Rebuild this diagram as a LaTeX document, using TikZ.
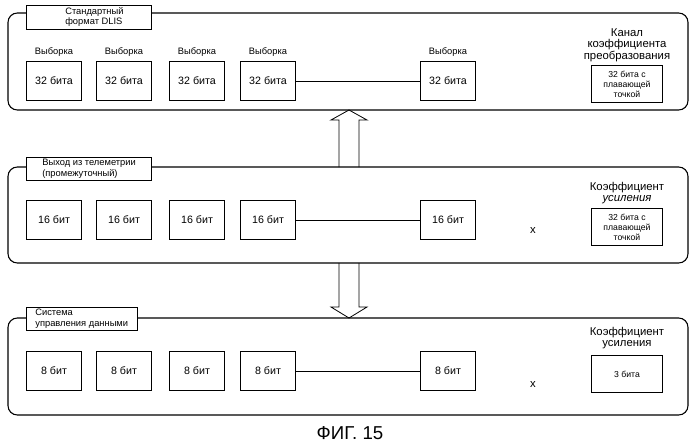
\documentclass[tikz,border=0pt]{standalone}
\usepackage{fontspec}
\setmainfont{Liberation Sans}
\begin{document}
\begin{tikzpicture}[x=0.75pt,y=-0.75pt,
panel/.style={draw,line width=0.8pt,rounded corners=7pt},
lab/.style={draw,fill=white,line width=0.6pt,font=\fontsize{7}{8}\selectfont,align=left,inner sep=1.5pt,anchor=north west},
box/.style={draw,line width=0.6pt,minimum width=41pt,minimum height=29pt,font=\fontsize{8}{9}\selectfont},
rbox/.style={draw,line width=0.6pt,minimum width=53pt,minimum height=28pt,font=\fontsize{6.5}{7.5}\selectfont,align=center,inner sep=1pt},
smp/.style={font=\fontsize{7}{8}\selectfont},
hd/.style={font=\fontsize{8.5}{8.5}\selectfont,align=center},
harr/.style={draw,line width=0.6pt,line join=miter}]
\useasboundingbox (0,0) rectangle (699,447);
% panels
\draw[panel] (8,13) rectangle (688,110);
\draw[panel] (8,167) rectangle (688,263);
\draw[panel] (8,318) rectangle (688,415);
% hollow arrows
\draw[harr] (339,167) -- (339,120) -- (331,120) -- (349,110) -- (367,120) -- (359,120) -- (359,167);
\draw[harr] (339,263) -- (339,307) -- (331,307) -- (349,318) -- (367,307) -- (359,307) -- (359,263);
\node[lab,minimum width=94pt] (l1) at (26,5) {\hspace{8pt}Стандартный\\\hspace{8pt}формат DLIS};
\node[lab,minimum width=94pt] (l2) at (26,157) {Выход из телеметрии\\(промежуточный)};
\node[lab,minimum width=83pt] (l3) at (26,307) {Система\\управления данными};
% row 1
\foreach \n/\x in {a/54,b/124,c/197,d/268,e/448}{
  \node[box] (t\n) at (\x,81) {32 бита};
  \node[smp] (s\n) at (\x,52) {Выборка};
}
\draw[line width=0.5pt] (td) -- (te);
\node[hd] (h1) at (627,45) {Канал\\коэффициента\\преобразования};
\node[rbox] (r1) at (627,84) {32 бита с\\плавающей\\точкой};
% row 2
\foreach \n/\x in {a/54,b/124,c/197,d/268,e/448}{
  \node[box] (m\n) at (\x,220) {16 бит};
}
\draw[line width=0.5pt] (md) -- (me);
\node[font=\fontsize{8.5}{9}\selectfont] (x2) at (533,230) {x};
\node[hd] (h2) at (627,193) {Коэффициент\\\textit{усиления}};
\node[rbox] (r2) at (627,227) {32 бита с\\плавающей\\точкой};
% row 3
\foreach \n/\x in {a/54,b/124,c/197,d/268,e/448}{
  \node[box] (b\n) at (\x,371) {8 бит};
}
\draw[line width=0.5pt] (bd) -- (be);
\node[font=\fontsize{8.5}{9}\selectfont] (x3) at (533,384) {x};
\node[hd] (h3) at (627,338) {Коэффициент\\усиления};
\node[rbox] (r3) at (627,374) {3 бита};
\node[font=\fontsize{14}{16}\selectfont] (cap) at (350,433) {ФИГ. 15};
\end{tikzpicture}
\end{document}
